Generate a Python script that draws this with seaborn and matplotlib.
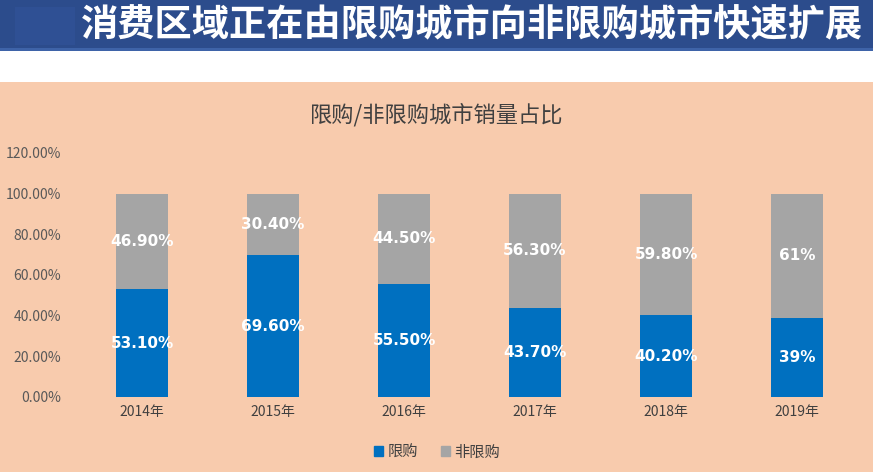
import numpy as np
import pandas as pd
import matplotlib
matplotlib.use("Agg")
import matplotlib.pyplot as plt
import matplotlib.patches as mpatches
import seaborn as sns

# ── Data ─────────────────────────────────────────────────
years = ["2014年", "2015年", "2016年", "2017年", "2018年", "2019年"]
limited = [53.1, 69.6, 55.5, 43.7, 40.2, 39.0]
unlimited = [46.9, 30.4, 44.5, 56.3, 59.8, 61.0]
limited_labels = ["53.10%", "69.60%", "55.50%", "43.70%", "40.20%", "39%"]
unlimited_labels = ["46.90%", "30.40%", "44.50%", "56.30%", "59.80%", "61%"]
yticks = [0, 20, 40, 60, 80, 100, 120]

# ── Style ────────────────────────────────────────────────
PEACH = "#F8CBAD"
BLUE = "#0070C0"
GRAY = "#A5A5A5"
BANNER = "#2C4C8C"
TXT = "#595959"

sns.set_theme(style="white")
plt.rcParams["font.family"] = ["Noto Sans CJK SC", "DejaVu Sans"]

df = pd.DataFrame({"year": years, "limited": limited,
                   "total": np.array(limited) + np.array(unlimited)})

W, H = 873, 472
fig = plt.figure(figsize=(W / 100, H / 100), dpi=100)
fig.patch.set_facecolor(PEACH)

# banner + white strip
fig.patches.append(mpatches.Rectangle((0, 1 - 82 / H), 1, 32 / H, transform=fig.transFigure,
                                      facecolor="white", edgecolor="none", zorder=0))
fig.patches.append(mpatches.Rectangle((0, 1 - 50 / H), 1, 50 / H, transform=fig.transFigure,
                                      facecolor=BANNER, edgecolor="none", zorder=0))
fig.patches.append(mpatches.Rectangle((0, 1 - 51 / H), 1, 3 / H, transform=fig.transFigure,
                                      facecolor="#3E63A8", edgecolor="none", zorder=0))
fig.patches.append(mpatches.Rectangle((15 / W, 1 - 45 / H), 60 / W, 38 / H, transform=fig.transFigure,
                                      facecolor="#2F5094", edgecolor="none", zorder=0))
fig.text(472 / W, 1 - 26 / H, "消费区域正在由限购城市向非限购城市快速扩展",
         ha="center", va="center", color="white", fontsize=26.8, fontweight="bold")

ax = fig.add_axes([76.5 / W, 1 - 397 / H, 786 / W, 244 / H])
ax.set_facecolor(PEACH)

sns.barplot(data=df, x="year", y="total", color=GRAY, width=0.4,
            saturation=1, linewidth=0, ax=ax, zorder=2)
sns.barplot(data=df, x="year", y="limited", color=BLUE, width=0.4,
            saturation=1, linewidth=0, ax=ax, zorder=3)

for i in range(len(years)):
    ax.text(i, limited[i] / 2, limited_labels[i], ha="center", va="center",
            color="white", fontsize=11, fontweight="bold", family="DejaVu Sans", zorder=4)
    ax.text(i, limited[i] + unlimited[i] / 2, unlimited_labels[i], ha="center", va="center",
            color="white", fontsize=11, fontweight="bold", family="DejaVu Sans", zorder=4)

ax.set_ylim(0, 120)
ax.set_xlim(-0.5, len(years) - 0.5)
ax.set_yticks(yticks)
ax.set_yticklabels([f"{v:.2f}%" for v in yticks])
ax.set_xlabel("")
ax.set_ylabel("")
ax.tick_params(axis="y", labelsize=10, colors=TXT, length=0, pad=11)
ax.tick_params(axis="x", labelsize=10, colors="#404040", length=0, pad=6)
for s in ax.spines.values():
    s.set_visible(False)

fig.text(437 / W, 1 - 115 / H, "限购/非限购城市销量占比", ha="center", va="center",
         color="#404040", fontsize=16)

handles = [mpatches.Patch(color=BLUE, label="限购"), mpatches.Patch(color=GRAY, label="非限购")]
leg = fig.legend(handles=handles, loc="center", bbox_to_anchor=(437 / W, 1 - 452 / H), ncol=2,
                 frameon=False, fontsize=11, handlelength=0.6, handleheight=0.6,
                 handletextpad=0.3, columnspacing=1.5)
for t in leg.get_texts():
    t.set_color("#404040")

fig.savefig("out.png", dpi=100, facecolor=PEACH)
